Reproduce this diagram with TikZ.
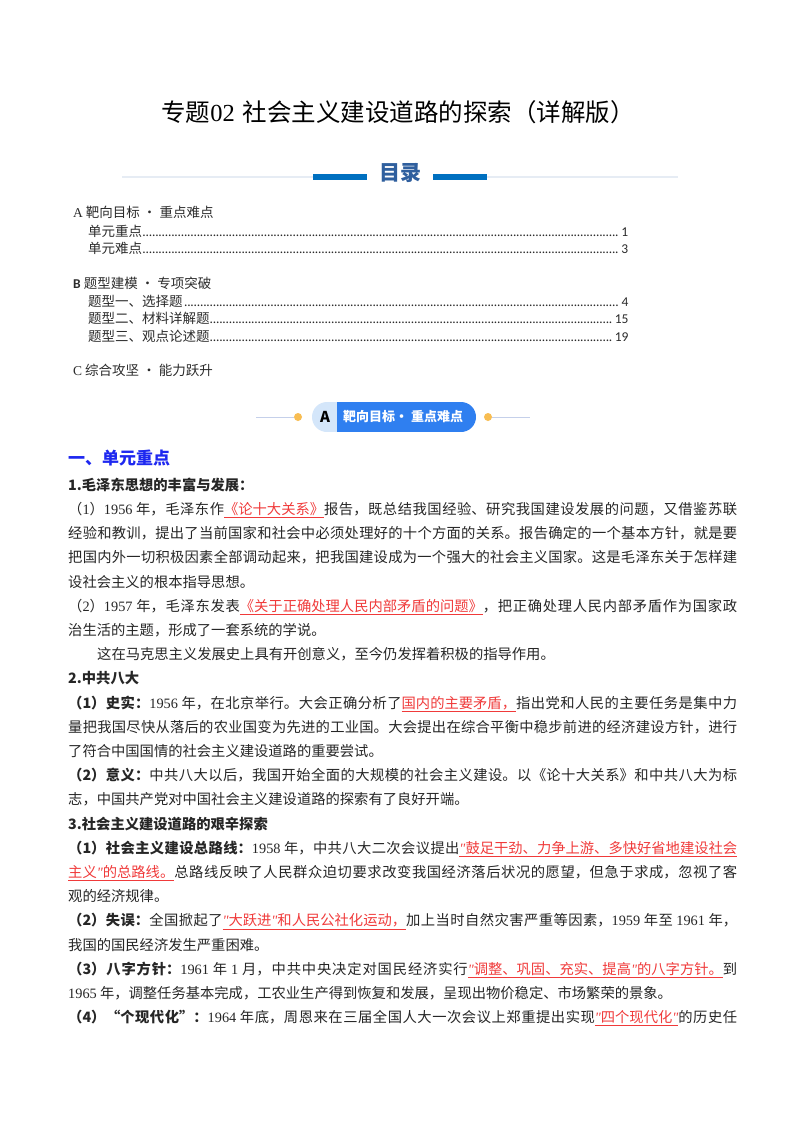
\documentclass[tikz,border=0pt]{standalone}
\usepackage{fontspec}
\setmainfont{Noto Sans CJK SC}
\newfontfamily\lat{Liberation Serif}
\newfontfamily\carl{Carlito}
\XeTeXlinebreaklocale "zh"
\XeTeXlinebreakskip=0pt plus 2pt minus 0.4pt
\definecolor{txt}{HTML}{262626}
\definecolor{tocc}{HTML}{2B2B2B}
\definecolor{tocblue}{HTML}{2F5F9E}
\definecolor{barblue}{HTML}{0070C0}
\definecolor{lineg}{HTML}{E6ECF4}
\definecolor{headblue}{HTML}{1E28F0}
\definecolor{redt}{HTML}{F03A3A}
\definecolor{pillblue}{HTML}{2F7FF0}
\definecolor{pilllight}{HTML}{D4E6FA}
\definecolor{dotc}{HTML}{F8BD52}
\definecolor{bline}{HTML}{C5D0EA}
\newcommand\fs{\fontsize{14.3pt}{18pt}\selectfont}
\newcommand\tfs{\fontsize{13.5pt}{16pt}\selectfont}
\newcommand\jl[1]{\parbox[t]{669pt}{\tolerance=9999\hbadness=10000\hfuzz=20pt\parfillskip=0pt\leavevmode\relax #1}}
\newcommand\ru[1]{{\color{redt}\underline{#1}}}
\newcommand\q{{\lat\itshape "}}
\newcommand\lead{{\carl\leaders\hbox to 3.2pt{\hss.\hss}\hfill}}
\tikzset{
  body/.style={anchor=base west, inner sep=0pt, text=txt, font=\fs},
  toc/.style={anchor=base west, inner sep=0pt, text=tocc, font=\tfs},
}
\begin{document}
\begin{tikzpicture}[x=1pt,y=-1pt]
\useasboundingbox (0,0) rectangle (800,1132);
\fill[white] (0,0) rectangle (800,1132);

% title
\node[inner sep=0pt, text=black, font=\fontsize{24.5pt}{28pt}\selectfont] (title) at (398,112) {专题{\lat 02}\hspace{8pt}社会主义建设道路的探索（详解版）};

% contents header
\draw[lineg, line width=1.5pt] (122,177) -- (313,177);
\draw[lineg, line width=1.5pt] (487,177) -- (678,177);
\fill[barblue] (313,174) rectangle (367,180);
\fill[barblue] (433,174) rectangle (487,180);
\node[inner sep=0pt, text=tocblue, font=\fontsize{21pt}{24pt}\selectfont\bfseries] (mulu) at (400,173) {目录};

% table of contents
\node[toc] (tA) at (73,217) {{\lat A} 靶向目标 · 重点难点};
\node[toc] (t1) at (88,236) {\makebox[541pt][l]{单元重点\lead{\carl 1}}};
\node[toc] (t2) at (88,253) {\makebox[541pt][l]{单元难点\lead{\carl 3}}};
\node[toc] (tB) at (73,288) {{\carl\bfseries B} 题型建模 · 专项突破};
\node[toc] (t3) at (88,306) {\makebox[541pt][l]{题型一、选择题\lead{\carl 4}}};
\node[toc] (t4) at (88,323) {\makebox[541pt][l]{题型二、材料详解题\lead{\carl 15}}};
\node[toc] (t5) at (88,341) {\makebox[541pt][l]{题型三、观点论述题\lead{\carl 19}}};
\node[toc] (tC) at (73,375) {{\lat C} 综合攻坚 · 能力跃升};

% banner
\draw[bline, line width=1pt] (256,417) -- (294,417);
\draw[bline, line width=1pt] (492,417) -- (530,417);
\fill[dotc] (298,417) circle (4pt);
\fill[dotc] (488,417) circle (4pt);
\begin{scope}
\clip[rounded corners=15pt] (312,402) rectangle (476,432);
\fill[pilllight] (312,402) rectangle (337,432);
\fill[pillblue] (337,402) rectangle (476,432);
\end{scope}
\node[inner sep=0pt, text=black, font=\fontsize{15pt}{18pt}\selectfont\bfseries] (bA) at (325,417) {A};
\node[anchor=west, inner sep=0pt, text=white, font=\fontsize{13pt}{16pt}\selectfont\bfseries] (bT) at (343,417) {靶向目标· 重点难点};

% body
\node[body, text=headblue, font=\fontsize{17pt}{20pt}\selectfont\bfseries] (h1) at (68,464) {一、单元重点};
\node[body, font=\fs\bfseries] (l1) at (68,490.2) {1.毛泽东思想的丰富与发展：};
\node[body] (l2) at (68,514.4) {\jl{（{\lat 1}）{\lat 1956} 年，毛泽东作\ru{《论十大关系》}报告，既总结我国经验、研究我国建设发展的问题，又借鉴苏联}};
\node[body] (l3) at (68,538.6) {\jl{经验和教训，提出了当前国家和社会中必须处理好的十个方面的关系。报告确定的一个基本方针，就是要}};
\node[body] (l4) at (68,562.8) {\jl{把国内外一切积极因素全部调动起来，把我国建设成为一个强大的社会主义国家。这是毛泽东关于怎样建}};
\node[body] (l5) at (68,587) {设社会主义的根本指导思想。};
\node[body] (l6) at (68,611.2) {\jl{（{\lat 2}）{\lat 1957} 年，毛泽东发表\ru{《关于正确处理人民内部矛盾的问题》}，把正确处理人民内部矛盾作为国家政}};
\node[body] (l7) at (68,635.4) {治生活的主题，形成了一套系统的学说。};
\node[body] (l8) at (97,659.6) {这在马克思主义发展史上具有开创意义，至今仍发挥着积极的指导作用。};
\node[body, font=\fs\bfseries] (l9) at (68,683.8) {2.中共八大};
\node[body] (l10) at (68,708) {\jl{\textbf{（1）史实：}{\lat 1956} 年，在北京举行。大会正确分析了\ru{国内的主要矛盾，}指出党和人民的主要任务是集中力}};
\node[body] (l11) at (68,732.2) {\jl{量把我国尽快从落后的农业国变为先进的工业国。大会提出在综合平衡中稳步前进的经济建设方针，进行}};
\node[body] (l12) at (68,756.4) {了符合中国国情的社会主义建设道路的重要尝试。};
\node[body] (l13) at (68,780.6) {\jl{\textbf{（2）意义：}中共八大以后，我国开始全面的大规模的社会主义建设。以《论十大关系》和中共八大为标}};
\node[body] (l14) at (68,804.8) {志，中国共产党对中国社会主义建设道路的探索有了良好开端。};
\node[body, font=\fs\bfseries] (l15) at (68,829) {3.社会主义建设道路的艰辛探索};
\node[body] (l16) at (68,853.2) {\jl{\textbf{（1）社会主义建设总路线：}{\lat 1958} 年，中共八大二次会议提出\ru{\q 鼓足干劲、力争上游、多快好省地建设社会}}};
\node[body] (l17) at (68,877.4) {\jl{\ru{主义\q 的总路线。}总路线反映了人民群众迫切要求改变我国经济落后状况的愿望，但急于求成，忽视了客}};
\node[body] (l18) at (68,901.6) {观的经济规律。};
\node[body] (l19) at (68,925.8) {\jl{\textbf{（2）失误：}全国掀起了\ru{\q 大跃进\q 和人民公社化运动，}加上当时自然灾害严重等因素，{\lat 1959} 年至 {\lat 1961} 年，}};
\node[body] (l20) at (68,950) {我国的国民经济发生严重困难。};
\node[body] (l21) at (68,974.2) {\jl{\textbf{（3）八字方针：}{\lat 1961} 年 {\lat 1} 月，中共中央决定对国民经济实行\ru{\q 调整、巩固、充实、提高\q 的八字方针。}到}};
\node[body] (l22) at (68,998.4) {{\lat 1965} 年，调整任务基本完成，工农业生产得到恢复和发展，呈现出物价稳定、市场繁荣的景象。};
\node[body] (l23) at (68,1022.6) {\jl{\textbf{（4）“个现代化”：}{\lat 1964} 年底，周恩来在三届全国人大一次会议上郑重提出实现\ru{\q 四个现代化\q}的历史任}};
\end{tikzpicture}
\end{document}
